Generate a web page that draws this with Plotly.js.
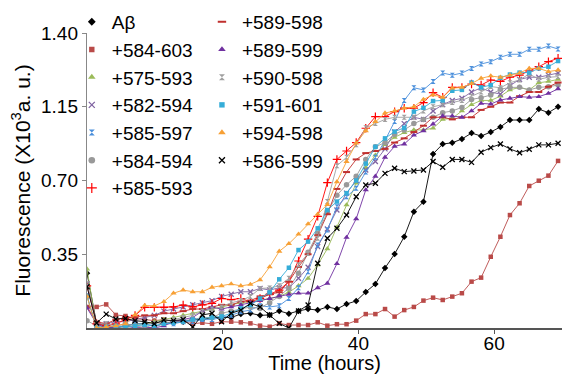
<!DOCTYPE html>
<html><head><meta charset="utf-8">
<script src="https://cdn.plot.ly/plotly-3.0.1.min.js"></script>
<style>html,body{margin:0;padding:0;background:#fff}#chart{width:562px;height:374px}</style>
</head><body><div id="chart"></div>
<script>
// Time points (hours)
const time = [0, 1.42, 2.83, 4.25, 5.67, 7.08, 8.5, 9.92, 11.33, 12.75,
  14.17, 15.58, 17, 18.42, 19.83, 21.25, 22.67, 24.08, 25.5, 26.92,
  28.33, 29.75, 31.17, 32.58, 34, 35.42, 36.83, 38.25, 39.67, 41.08,
  42.5, 43.92, 45.33, 46.75, 48.17, 49.58, 51, 52.42, 53.83, 55.25,
  56.67, 58.08, 59.5, 60.92, 62.33, 63.75, 65.17, 66.58, 68, 69.42];

const seriesNames = ["A\u03b2", "+584-603", "+575-593", "+582-594", "+585-597", "+584-594", "+585-593",
  "+589-598", "+589-599", "+590-598", "+591-601", "+594-598", "+586-599"];

const abeta = [0.26,0.02,0.01,0,0.01,0.02,0.02,0.03,0.02,0.03,
  0.03,0.04,0.04,0.05,0.05,0.05,0.066,0.07,0.06,0.062,
  0.081,0.068,0.081,0.09,0.085,0.1,0.09,0.114,0.128,0.171,
  0.209,0.285,0.351,0.433,0.552,0.599,0.826,0.873,0.879,0.897,
  0.925,0.911,0.93,0.954,0.987,0.987,0.987,1.039,1.022,1.05];
const s584_603 = [0.1,0.1,0.112,0.062,0.057,0.045,0.04,0.035,0.04,0.03,
  0.03,0.02,0.025,0.02,0.03,0.03,0.027,0.022,0.011,0.006,
  0.022,0.014,0.014,0.014,0.027,0.011,0.018,0.018,0.035,0.066,
  0.066,0.09,0.054,0.085,0.1,0.13,0.144,0.133,0.149,0.165,
  0.22,0.239,0.338,0.433,0.536,0.592,0.674,0.699,0.723,0.793];
const s575_593 = [0.28,0,0.01,0.005,0.01,0.02,0.02,0.03,0.04,0.05,
  0.06,0.07,0.08,0.09,0.1,0.11,0.12,0.125,0.13,0.14,
  0.15,0.17,0.2,0.235,0.3,0.376,0.478,0.584,0.687,0.76,
  0.82,0.87,0.905,0.927,0.94,0.94,0.948,0.99,0.995,1.03,
  1.06,1.08,1.08,1.1,1.13,1.142,1.13,1.164,1.17,1.18];
const s582_594 = [0.21,0.02,0.02,0.03,0.03,0.04,0.05,0.06,0.08,0.09,
  0.1,0.11,0.12,0.13,0.15,0.16,0.172,0.172,0.188,0.18,
  0.191,0.19,0.236,0.288,0.386,0.47,0.56,0.64,0.7,0.75,
  0.79,0.85,0.93,0.97,1.0,0.99,1.03,1.06,1.08,1.09,
  1.12,1.14,1.12,1.11,1.15,1.18,1.19,1.19,1.2,1.21];
const s585_597 = [0.153,0,0.01,0,0.01,0.02,0.02,0.01,0.02,0.02,
  0.03,0.03,0.04,0.04,0.05,0.06,0.077,0.085,0.106,0.1,
  0.106,0.14,0.191,0.267,0.394,0.465,0.576,0.623,0.663,0.74,
  0.81,0.89,0.98,1.08,1.14,1.13,1.17,1.21,1.2,1.21,
  1.232,1.253,1.264,1.285,1.299,1.299,1.323,1.323,1.338,1.324];
const s584_594 = [0.035,0.01,0,0.01,0.02,0.01,0,0.005,0.02,0.03,
  0.035,0.04,0.05,0.05,0.07,0.08,0.09,0.1,0.093,0.12,
  0.15,0.19,0.26,0.36,0.45,0.55,0.63,0.68,0.72,0.8,
  0.86,0.88,0.92,0.94,0.97,0.99,1.0,1.022,1.03,1.047,
  1.085,1.093,1.106,1.133,1.142,1.142,1.13,1.142,1.145,1.153];
const s585_593 = [0.2,0.02,0.01,0.02,0.04,0.06,0.098,0.098,0.098,0.1,
  0.109,0.1,0.11,0.117,0.14,0.135,0.14,0.125,0.14,0.16,
  0.18,0.22,0.318,0.422,0.53,0.69,0.8,0.84,0.88,0.948,
  1.003,1.003,1.027,1.043,1.043,1.07,1.117,1.095,1.142,1.142,
  1.158,1.153,1.177,1.17,1.19,1.2,1.22,1.24,1.264,1.28];
const s589_598 = [0.1,0.03,0.02,0.04,0.05,0.05,0.06,0.06,0.07,0.07,
  0.08,0.09,0.09,0.1,0.11,0.11,0.125,0.13,0.15,0.16,
  0.17,0.22,0.29,0.35,0.44,0.54,0.66,0.74,0.8,0.83,
  0.84,0.85,0.88,0.9,0.93,0.96,1.0,1.0,0.99,1.0,
  1.0,1.035,1.05,1.07,1.07,1.1,1.12,1.12,1.145,1.165];
const s589_599 = [0.095,0.02,0,0.005,0.01,0,0.005,0,0.01,0.03,
  0.04,0.05,0.08,0.098,0.09,0.1,0.11,0.12,0.13,0.14,
  0.153,0.16,0.165,0.165,0.191,0.212,0.305,0.43,0.518,0.655,
  0.72,0.81,0.862,0.873,0.915,0.936,0.968,1.006,1.006,1.0,
  1.03,1.066,1.063,1.082,1.09,1.098,1.095,1.098,1.113,1.135];
const s590_598 = [0.21,0.02,0.02,0.01,0,0.01,0,0.02,0.03,0.04,
  0.05,0.06,0.08,0.09,0.1,0.12,0.13,0.15,0.188,0.19,
  0.2,0.236,0.3,0.354,0.426,0.6,0.77,0.81,0.87,0.95,
  0.97,0.99,1.0,1.0,1.0,1.03,1.05,1.06,1.07,1.08,
  1.1,1.12,1.146,1.14,1.164,1.177,1.206,1.18,1.19,1.193];
const s591_601 = [0.15,0,0.005,0.01,0.005,0.01,0.015,0.01,0.02,0.025,
  0.03,0.04,0.045,0.05,0.055,0.07,0.093,0.109,0.14,0.169,
  0.231,0.286,0.37,0.41,0.473,0.56,0.6,0.64,0.7,0.78,
  0.86,0.9,0.932,0.95,1.027,1.045,1.077,1.08,1.126,1.13,
  1.165,1.142,1.153,1.187,1.203,1.212,1.212,1.232,1.24,1.267];
const s594_598 = [0.15,0,0.005,0.01,0.02,0.062,0.107,0.105,0.125,0.165,
  0.18,0.172,0.172,0.193,0.2,0.209,0.2,0.207,0.228,0.29,
  0.364,0.4,0.445,0.494,0.54,0.586,0.694,0.79,0.877,0.936,
  0.979,1.02,1.03,1.043,1.05,1.085,1.106,1.095,1.138,1.142,
  1.16,1.185,1.196,1.19,1.2,1.21,1.232,1.232,1.217,1.224];
const s586_599 = [0.196,0.024,0.066,0.043,0.045,0.035,0.03,0.02,0.038,0.035,
  0.04,0.005,0.062,0.07,0.03,0.07,0.085,0.117,0.1,0.062,
  0.022,0,0.081,0.109,0.307,0.426,0.473,0.536,0.623,0.679,
  0.687,0.734,0.758,0.742,0.745,0.75,0.79,0.763,0.8,0.8,
  0.786,0.834,0.856,0.873,0.85,0.832,0.848,0.869,0.869,0.877];

const yTickVals = [0.35, 0.70, 1.05, 1.40];
const yTickText = ["0.35", "0.70", "1.15", "1.40"];
const xTickVals = [20, 40, 60];

const allValues = [abeta, s584_603, s575_593, s582_594, s585_597, s584_594, s585_593,
  s589_598, s589_599, s590_598, s591_601, s594_598, s586_599];

// styles
const styles = [
  {c:'#000000', sym:'diamond', size:5},
  {c:'#B94A48', sym:'square', size:4.5},
  {c:'#9BBB59', sym:'triangle-up', size:5.5},
  {c:'#8064A2', sym:'x-thin-open', size:5, lw:1.3},
  {c:'#4A8FDB', sym:'hourglass', size:5},
  {c:'#999999', sym:'circle', size:5.5},
  {c:'#FF0000', sym:'cross-thin-open', size:6, lw:1.2},
  {c:'#C0302E', sym:'line-ew-open', size:5, lw:2},
  {c:'#7030A0', sym:'triangle-up', size:5.5},
  {c:'#A0A0A0', sym:'hourglass', size:5},
  {c:'#35ADD8', sym:'square', size:4.5},
  {c:'#F7A035', sym:'triangle-up', size:5.5},
  {c:'#000000', sym:'x-thin-open', size:5, lw:1.3}
];

function markerOf(s, scale){
  const m = {symbol:s.sym, size:s.size*scale, color:s.c};
  if (s.lw) m.line = {color:s.c, width:s.lw};
  else m.line = {width:0};
  return m;
}

const traces = [];
allValues.forEach((vals, k) => {
  const s = styles[k];
  traces.push({
    x: time, y: vals, type:'scatter', mode:'lines+markers',
    name: seriesNames[k], showlegend:false, hoverinfo:'skip',
    line:{color:s.c, width:0.9},
    marker: markerOf(s, 1)
  });
});
// legend entries (markers only, like the original)
allValues.forEach((vals, k) => {
  const s = styles[k];
  traces.push({
    x:[null], y:[null], type:'scatter', mode:'markers',
    name: seriesNames[k], showlegend:true,
    legend: k < 7 ? 'legend' : 'legend2',
    marker: markerOf(s, 1.2)
  });
});

const legendBase = {
  xref:'paper', yref:'paper', xanchor:'left', yanchor:'top',
  bgcolor:'rgba(0,0,0,0)', borderwidth:0, font:{size:19, color:'#000'},
  itemwidth:30, tracegroupgap:0, traceorder:'normal', maxheight:360
};

const layout = {
  width:562, height:374,
  margin:{l:87, r:0, t:33, b:46, pad:0},
  paper_bgcolor:'#ffffff', plot_bgcolor:'#ffffff',
  font:{family:'Arial, "Liberation Sans", sans-serif', size:19, color:'#000'},
  showlegend:true,
  xaxis:{
    range:[0, 70], tickvals:xTickVals, ticks:'outside', ticklen:4, tickcolor:'#555',
    showline:true, linecolor:'#555', linewidth:1.5, showgrid:false, zeroline:false,
    ticklabelstandoff:-6,
    tickfont:{size:19}, title:{text:'Time (hours)', font:{size:20}, standoff:8}
  },
  yaxis:{
    range:[0, 1.4], tickvals:yTickVals, ticktext:yTickText, ticks:'outside', ticklen:4,
    tickcolor:'#888', showline:true, linecolor:'#888', linewidth:1.2, showgrid:false, zeroline:false,
    tickfont:{size:19}, title:{text:'Fluorescence (X10<sup>3</sup>a. u.)', font:{size:21}, standoff:4}
  },
  legend: Object.assign({}, legendBase, {x:-0.032, y:1.102}),
  legend2: Object.assign({}, legendBase, {x:0.242, y:1.102})
};

Plotly.newPlot('chart', traces, layout, {displayModeBar:false, staticPlot:true});
</script>
</body></html>
